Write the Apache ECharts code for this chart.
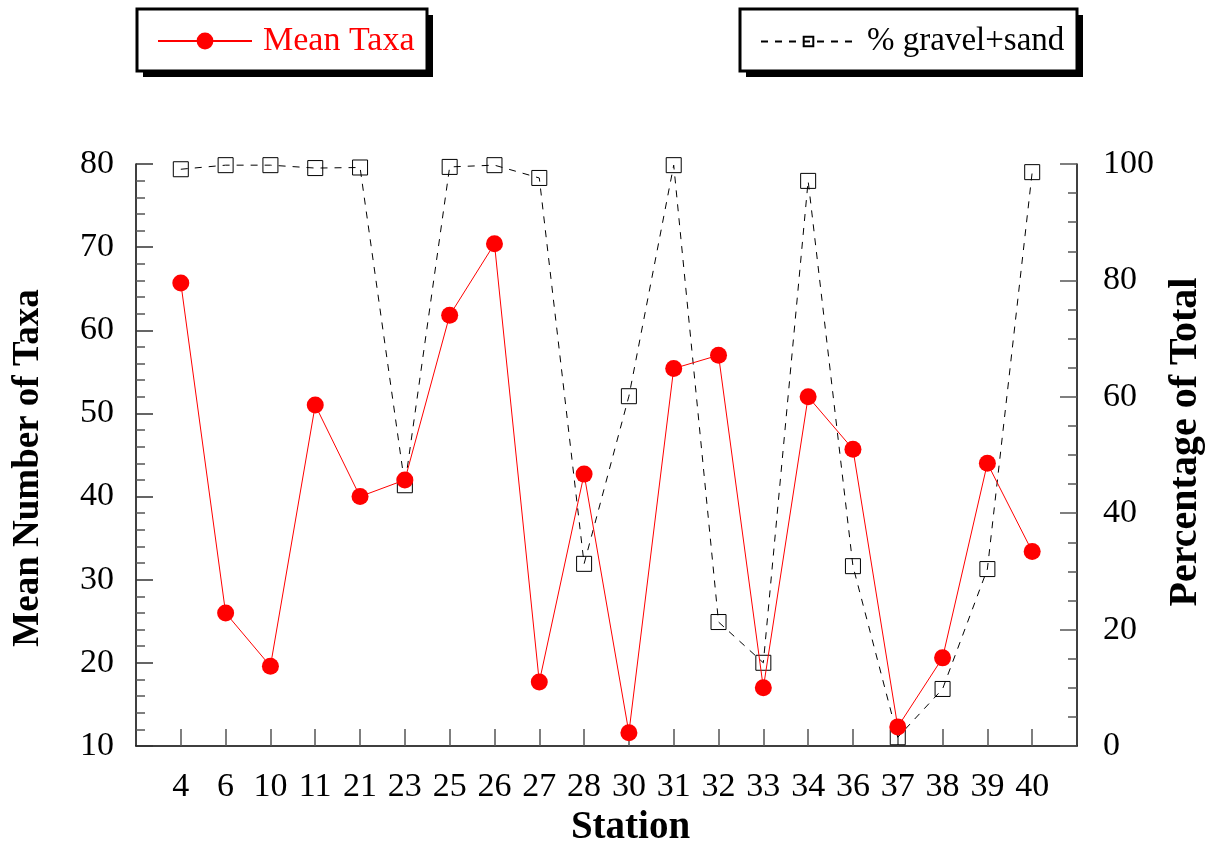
<!DOCTYPE html>
<html>
<head>
<meta charset="utf-8">
<script src="https://cdn.jsdelivr.net/npm/echarts@6/dist/echarts.min.js"></script>
<style>html,body{margin:0;padding:0;background:#fff}#c{width:1212px;height:848px}</style>
</head>
<body>
<div id="c"></div>
<script>
const stations = ['4','6','10','11','21','23','25','26','27','28','30','31','32','33','34','36','37','38','39','40'];
const meanTaxa = [65.7,26.0,19.6,51.0,40.0,42.0,61.8,70.4,17.7,42.7,11.6,55.4,57.0,17.0,52.0,45.7,12.3,20.6,44.0,33.4];
const gravelSand = [99.1,99.8,99.8,99.3,99.4,44.8,99.5,99.8,97.6,31.3,60.1,99.8,21.3,14.3,97.1,30.9,1.5,9.8,30.4,98.6];
const leftTicks = {min:10,max:80,interval:10};
const rightTicks = {min:0,max:100,interval:20};

const font = 'Liberation Serif';
const cats = [''].concat(stations, ['']);
const pad = a => ['-'].concat(a, ['-']);

function legendBox(x, y, w, h) {
  return [
    {type:'rect',z:1,silent:true,shape:{x:x+6,y:y+6,width:w,height:h},style:{fill:'#000'}},
    {type:'rect',z:2,silent:true,shape:{x:x,y:y,width:w,height:h},style:{fill:'#fff',stroke:'#000',lineWidth:3}}
  ];
}

const chart = echarts.init(document.getElementById('c'), null, {renderer:'canvas'});
chart.setOption({
  animation:false,
  backgroundColor:'#fff',
  graphic:[].concat(legendBox(137,9,290,62), legendBox(740,9,337,62)),
  grid:{left:136,right:135,top:164,bottom:102,containLabel:false,outerBoundsMode:'none'},
  legend:[
    {data:['Mean Taxa'],left:157,top:24,padding:0,itemWidth:94,itemHeight:21,itemGap:0,z:10,
     textStyle:{fontFamily:font,fontSize:34,color:'#ff0000',padding:[0,0,0,6]}},
    {data:['% gravel+sand'],left:760,top:25,padding:0,itemWidth:95,itemHeight:12,itemGap:0,z:10,
     textStyle:{fontFamily:font,fontSize:33,color:'#000',padding:[0,0,0,6]}}
  ],
  xAxis:{
    type:'category',data:cats,boundaryGap:false,
    name:'Station',nameLocation:'middle',nameGap:62,
    nameTextStyle:{fontFamily:font,fontSize:39,fontWeight:'bold',color:'#000',padding:[0,0,0,48]},
    axisLine:{lineStyle:{color:'#000',width:1.5}},
    axisTick:{inside:true,length:17,lineStyle:{color:'#555',width:1.5},
      interval:(i)=> i>0 && i<cats.length-1},
    axisLabel:{fontFamily:font,fontSize:34,color:'#000',margin:24,interval:0},
    splitLine:{show:false}
  },
  yAxis:[
    {type:'value',position:'left',min:leftTicks.min,max:leftTicks.max,interval:leftTicks.interval,
     name:'Mean Number of Taxa',nameLocation:'middle',nameGap:89,nameRotate:90,
     nameTextStyle:{fontFamily:font,fontSize:37,fontWeight:'bold',color:'#000',padding:[0,26,0,0]},
     axisLine:{show:true,lineStyle:{color:'#000',width:1.5}},
     axisTick:{show:true,inside:true,length:17,lineStyle:{color:'#333',width:1.5}},
     minorTick:{show:true,splitNumber:5,length:9,lineStyle:{color:'#555',width:1.5}},
     axisLabel:{fontFamily:font,fontSize:34,color:'#000',margin:22},
     splitLine:{show:false}},
    {type:'value',position:'right',min:rightTicks.min,max:rightTicks.max,interval:rightTicks.interval,
     name:'Percentage of Total',nameLocation:'middle',nameGap:89,nameRotate:90,
     nameTextStyle:{fontFamily:font,fontSize:40,fontWeight:'bold',color:'#000',padding:[0,0,0,26]},
     axisLine:{show:true,lineStyle:{color:'#000',width:1.5}},
     axisTick:{show:true,inside:true,length:17,lineStyle:{color:'#555',width:1.5}},
     minorTick:{show:true,splitNumber:4,length:9,lineStyle:{color:'#555',width:1.5}},
     axisLabel:{fontFamily:font,fontSize:34,color:'#000',margin:26},
     splitLine:{show:false}}
  ],
  series:[
    {name:'% gravel+sand',type:'line',yAxisIndex:1,data:pad(gravelSand),
     symbol:'path://M0,0H10V10H0Z',symbolSize:15,showAllSymbol:true,connectNulls:false,
     lineStyle:{color:'#000',width:1,type:[7,7]},
     itemStyle:{color:'rgba(0,0,0,0)',borderColor:'#000',borderWidth:1},
     z:2},
    {name:'Mean Taxa',type:'line',yAxisIndex:0,data:pad(meanTaxa),
     symbol:'circle',symbolSize:17,showAllSymbol:true,
     lineStyle:{color:'#ff0000',width:1},
     itemStyle:{color:'#ff0000'},
     z:3}
  ]
});
</script>
</body>
</html>
